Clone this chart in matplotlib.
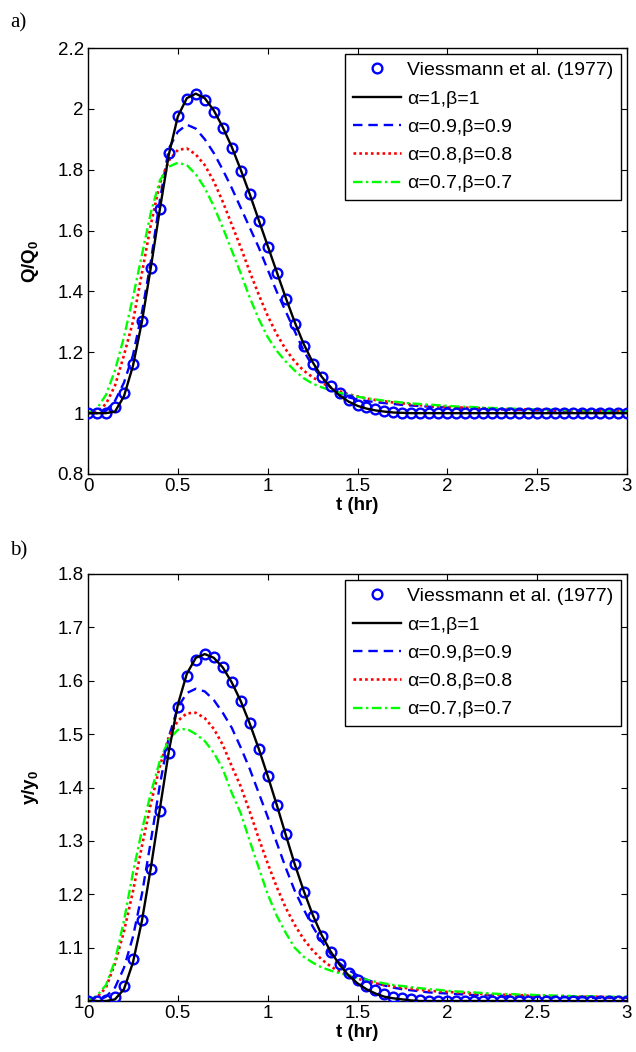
import numpy as np
import matplotlib
matplotlib.use("Agg")
import matplotlib.pyplot as plt

plt.rcParams['font.family'] = ['Liberation Sans', 'DejaVu Sans']
plt.rcParams['mathtext.fontset'] = 'custom'
plt.rcParams['mathtext.rm'] = 'Liberation Sans'
plt.rcParams['mathtext.bf'] = 'Liberation Sans:bold'
plt.rcParams['mathtext.it'] = 'Liberation Sans:italic'

# time grid (hr), 0.05 hr steps
t = np.round(np.arange(0, 3.0001, 0.05), 2)

# ---------------- panel a: Q/Q0 ----------------
obs_Q = [1.0, 1.0, 1.0, 1.02, 1.066, 1.161, 1.303, 1.477, 1.671, 1.855,
         1.975, 2.032, 2.05, 2.03, 1.99, 1.937, 1.871, 1.796, 1.72, 1.631,
         1.546, 1.46, 1.375, 1.293, 1.221, 1.161, 1.119, 1.089, 1.066, 1.043,
         1.027, 1.02, 1.013, 1.007, 1.004, 1.002,
         1.0, 1.0, 1.0, 1.0, 1.0, 1.0, 1.0, 1.0, 1.0, 1.0, 1.0, 1.0, 1.0,
         1.0, 1.0, 1.0, 1.0, 1.0, 1.0, 1.0, 1.0, 1.0, 1.0, 1.0, 1.0]
Q_a10 = [1.0, 1.0, 1.0, 1.005, 1.055, 1.155, 1.30, 1.48, 1.67, 1.85,
         1.975, 2.035, 2.05, 2.035, 1.995, 1.94, 1.875, 1.80, 1.72, 1.635,
         1.55, 1.465, 1.38, 1.30, 1.228, 1.168, 1.12, 1.085, 1.058, 1.038,
         1.024, 1.015, 1.009, 1.005, 1.002, 1.001,
         1.0, 1.0, 1.0, 1.0, 1.0, 1.0, 1.0, 1.0, 1.0, 1.0, 1.0, 1.0, 1.0,
         1.0, 1.0, 1.0, 1.0, 1.0, 1.0, 1.0, 1.0, 1.0, 1.0, 1.0, 1.0]
Q_a09 = [1.0, 1.0, 1.008, 1.04, 1.10, 1.19, 1.33, 1.50, 1.70, 1.87,
         1.925, 1.948, 1.935, 1.90, 1.855, 1.80, 1.74, 1.675, 1.61, 1.545,
         1.472, 1.40, 1.335, 1.27, 1.205, 1.155, 1.115, 1.085, 1.065, 1.052,
         1.045, 1.04, 1.036, 1.033, 1.03, 1.027,
         1.025, 1.023, 1.021, 1.02, 1.018, 1.017, 1.016, 1.015, 1.014, 1.013,
         1.012, 1.011, 1.010, 1.010, 1.009, 1.009, 1.008, 1.008, 1.007, 1.007,
         1.007, 1.006, 1.006, 1.006, 1.005]
Q_a08 = [1.0, 1.005, 1.03, 1.09, 1.19, 1.30, 1.46, 1.62, 1.755, 1.83,
         1.865, 1.87, 1.85, 1.815, 1.762, 1.695, 1.62, 1.545, 1.465, 1.39,
         1.32, 1.26, 1.21, 1.17, 1.14, 1.118, 1.10, 1.085, 1.072, 1.062,
         1.055, 1.048, 1.043, 1.039, 1.035, 1.032,
         1.029, 1.026, 1.024, 1.022, 1.02, 1.019, 1.018, 1.017, 1.016, 1.015,
         1.014, 1.013, 1.012, 1.012, 1.011, 1.010, 1.010, 1.009, 1.009, 1.008,
         1.008, 1.008, 1.007, 1.007, 1.006]
Q_a07 = [1.0, 1.015, 1.06, 1.14, 1.25, 1.38, 1.52, 1.66, 1.765, 1.81,
         1.823, 1.815, 1.785, 1.74, 1.68, 1.61, 1.535, 1.46, 1.38, 1.31,
         1.25, 1.205, 1.17, 1.14, 1.115, 1.097, 1.085, 1.075, 1.067, 1.06,
         1.054, 1.049, 1.045, 1.041, 1.038, 1.035,
         1.032, 1.03, 1.028, 1.026, 1.024, 1.022, 1.021, 1.02, 1.018, 1.017,
         1.016, 1.015, 1.014, 1.013, 1.012, 1.012, 1.011, 1.010, 1.010, 1.009,
         1.009, 1.008, 1.008, 1.008, 1.007]

# ---------------- panel b: y/y0 ----------------
obs_y = [1.0, 1.0, 1.001, 1.008, 1.029, 1.078, 1.152, 1.247, 1.356, 1.465,
         1.551, 1.609, 1.639, 1.651, 1.645, 1.626, 1.597, 1.562, 1.52, 1.473,
         1.422, 1.368, 1.312, 1.256, 1.205, 1.159, 1.122, 1.092, 1.069, 1.053,
         1.039, 1.029, 1.02, 1.013, 1.008, 1.005, 1.003, 1.001,
         1.0, 1.0, 1.0, 1.0, 1.0, 1.0, 1.0, 1.0, 1.0, 1.0, 1.0, 1.0,
         1.0, 1.0, 1.0, 1.0, 1.0, 1.0, 1.0, 1.0, 1.0, 1.0, 1.0]
y_b10 = [1.0, 1.0, 1.0, 1.003, 1.022, 1.072, 1.15, 1.25, 1.36, 1.468,
         1.555, 1.613, 1.643, 1.65, 1.643, 1.625, 1.597, 1.562, 1.52, 1.473,
         1.422, 1.368, 1.312, 1.257, 1.207, 1.162, 1.124, 1.093, 1.068, 1.048,
         1.033, 1.022, 1.014, 1.008, 1.005, 1.003, 1.001,
         1.0, 1.0, 1.0, 1.0, 1.0, 1.0, 1.0, 1.0, 1.0, 1.0, 1.0, 1.0, 1.0,
         1.0, 1.0, 1.0, 1.0, 1.0, 1.0, 1.0, 1.0, 1.0, 1.0, 1.0]
y_b09 = [1.0, 1.0, 1.008, 1.025, 1.062, 1.12, 1.20, 1.30, 1.405, 1.495,
         1.55, 1.577, 1.585, 1.58, 1.564, 1.54, 1.512, 1.475, 1.435, 1.39,
         1.345, 1.297, 1.25, 1.207, 1.172, 1.14, 1.112, 1.088, 1.071, 1.058,
         1.048, 1.04, 1.034, 1.029, 1.025, 1.022,
         1.02, 1.018, 1.016, 1.015, 1.014, 1.013, 1.012, 1.011, 1.011, 1.010,
         1.010, 1.009, 1.009, 1.008, 1.008, 1.008, 1.007, 1.007, 1.007, 1.007,
         1.006, 1.006, 1.006, 1.006, 1.006]
y_b08 = [1.0, 1.007, 1.025, 1.07, 1.13, 1.205, 1.29, 1.37, 1.44, 1.495,
         1.525, 1.539, 1.54, 1.53, 1.51, 1.48, 1.44, 1.402, 1.355, 1.305,
         1.258, 1.214, 1.175, 1.143, 1.116, 1.095, 1.078, 1.065, 1.055, 1.048,
         1.042, 1.037, 1.033, 1.03, 1.027, 1.025,
         1.023, 1.021, 1.019, 1.018, 1.017, 1.016, 1.015, 1.014, 1.013, 1.012,
         1.012, 1.011, 1.011, 1.010, 1.010, 1.009, 1.009, 1.009, 1.008, 1.008,
         1.008, 1.008, 1.007, 1.007, 1.007]
y_b07 = [1.0, 1.01, 1.03, 1.075, 1.15, 1.24, 1.32, 1.39, 1.45, 1.49,
         1.508, 1.51, 1.50, 1.487, 1.465, 1.435, 1.39, 1.352, 1.30, 1.25,
         1.2, 1.16, 1.128, 1.10, 1.083, 1.072, 1.063, 1.057, 1.052, 1.048,
         1.044, 1.04, 1.036, 1.033, 1.03, 1.028,
         1.026, 1.024, 1.022, 1.021, 1.019, 1.018, 1.017, 1.016, 1.015, 1.014,
         1.013, 1.013, 1.012, 1.012, 1.011, 1.011, 1.010, 1.010, 1.009, 1.009,
         1.009, 1.008, 1.008, 1.008, 1.008]

labels = ['Viessmann et al. (1977)', 'α=1,β=1', 'α=0.9,β=0.9',
          'α=0.8,β=0.8', 'α=0.7,β=0.7']
xticks = [0, 0.5, 1, 1.5, 2, 2.5, 3]
xticklabels = ['0', '0.5', '1', '1.5', '2', '2.5', '3']
yticks_a = [0.8, 1.0, 1.2, 1.4, 1.6, 1.8, 2.0, 2.2]
yticklabels_a = ['0.8', '1', '1.2', '1.4', '1.6', '1.8', '2', '2.2']
yticks_b = [1.0, 1.1, 1.2, 1.3, 1.4, 1.5, 1.6, 1.7, 1.8]
yticklabels_b = ['1', '1.1', '1.2', '1.3', '1.4', '1.5', '1.6', '1.7', '1.8']

FS = 13.5
LFS = 14

fig = plt.figure(figsize=(6.36, 10.52), dpi=100)
W, H = 636, 1052
ax_a = fig.add_axes([88 / W, 1 - 474 / H, 539 / W, 426 / H])
ax_b = fig.add_axes([88 / W, 1 - 1001 / H, 539 / W, 427 / H])


def draw(ax, obs, s10, s09, s08, s07, yticks, yticklabels, ylim, ylabel):
    ax.plot(t, obs, 'o', mfc='none', mec='#0000ff', mew=1.7, ms=7,
            label=labels[0], zorder=3)
    ax.plot(t, s10, '-', color='black', lw=1.7, label=labels[1], zorder=4)
    ax.plot(t, s09, '--', color='#0000ff', lw=1.7, dashes=(4, 2.5),
            label=labels[2])
    ax.plot(t, s08, ':', color='#ff0000', lw=1.9, dashes=(1, 1.2),
            label=labels[3])
    ax.plot(t, s07, '-.', color='#00ff00', lw=1.7, dashes=(4, 1.5, 1, 1.5),
            label=labels[4])
    ax.set_xlim(0, 3)
    ax.set_ylim(*ylim)
    ax.set_xticks(xticks)
    ax.set_xticklabels(xticklabels)
    ax.set_yticks(yticks)
    ax.set_yticklabels(yticklabels)
    ax.tick_params(direction='in', length=4, width=0.8, top=True,
                   right=True, labelsize=FS, pad=3)
    for sp in ax.spines.values():
        sp.set_linewidth(1.0)
    ax.set_xlabel('t (hr)', fontsize=FS, fontweight='bold', labelpad=1)
    ax.set_ylabel(ylabel, fontsize=FS, labelpad=12)
    leg = ax.legend(loc='upper right', fontsize=LFS, frameon=True,
                    fancybox=False, edgecolor='black', framealpha=1,
                    handlelength=2.5, handletextpad=0.3, labelspacing=0.55,
                    borderpad=0.4, borderaxespad=0.3, numpoints=1)
    leg.get_frame().set_linewidth(1.0)


draw(ax_a, obs_Q, Q_a10, Q_a09, Q_a08, Q_a07, yticks_a, yticklabels_a,
     (0.8, 2.2), r'$\mathbf{Q/Q_0}$')
draw(ax_b, obs_y, y_b10, y_b09, y_b08, y_b07, yticks_b, yticklabels_b,
     (1.0, 1.8), r'$\mathbf{y/y_0}$')

fig.text(10 / W, 1 - 23 / H, 'a)', family='Liberation Serif', fontsize=15,
         va='center', ha='left')
fig.text(10 / W, 1 - 551 / H, 'b)', family='Liberation Serif', fontsize=15,
         va='center', ha='left')

fig.savefig('out.png', dpi=100)
